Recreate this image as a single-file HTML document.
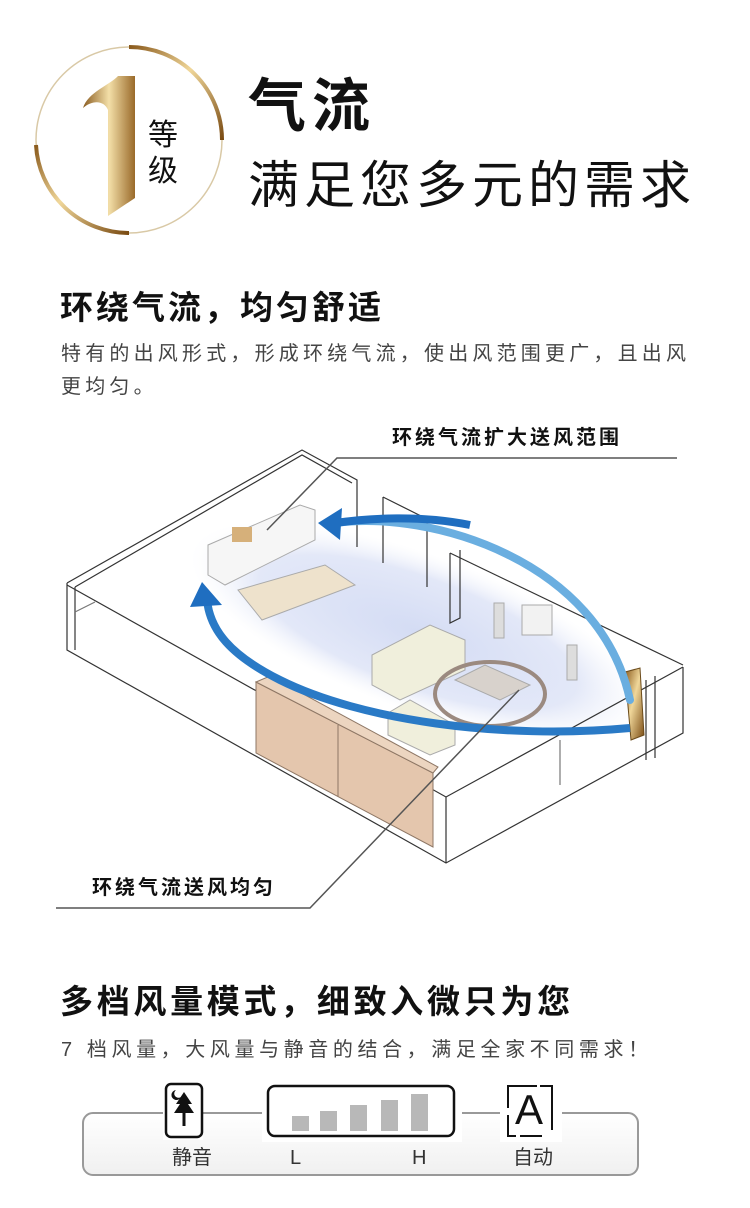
<!DOCTYPE html>
<html><head><meta charset="utf-8"><style>
body{margin:0;width:750px;height:1208px;background:#fff;position:relative;overflow:hidden;font-family:"Liberation Sans","Noto Sans CJK SC",sans-serif;color:#111}
.t{position:absolute;white-space:nowrap}
</style></head><body>
<svg width="750" height="1208" style="position:absolute;left:0;top:0">
<defs>
<linearGradient id="gold" x1="0" y1="0" x2="1" y2="1">
<stop offset="0" stop-color="#8a5a1c"/><stop offset="0.45" stop-color="#f0d79a"/><stop offset="1" stop-color="#7a4b12"/></linearGradient>
<linearGradient id="gold2" x1="0" y1="0" x2="1" y2="0">
<stop offset="0" stop-color="#8b5d22"/><stop offset="0.5" stop-color="#f3dfa8"/><stop offset="1" stop-color="#9a6a2a"/></linearGradient>
<radialGradient id="glow" cx="0.5" cy="0.5" r="0.5">
<stop offset="0" stop-color="#d4dcf4"/><stop offset="0.7" stop-color="#e3e8f8"/><stop offset="1" stop-color="#f4f6fc" stop-opacity="0"/></radialGradient>
<linearGradient id="panel" x1="0" y1="0" x2="0" y2="1"><stop offset="0" stop-color="#fff"/><stop offset="1" stop-color="#f0f0f0"/></linearGradient>
</defs>
<circle cx="129" cy="140" r="93" fill="none" stroke="#d9c9a6" stroke-width="1.5"/>
<path d="M129 47 A93 93 0 0 1 222 140" fill="none" stroke="url(#gold)" stroke-width="4"/>
<path d="M36 145 A93 93 0 0 0 129 233" fill="none" stroke="url(#gold)" stroke-width="4"/>
<path d="M83 108 C 88 92 110 85 118 76 L135 76 L135 198 L108 216 L108 110 C 104 100 92 100 83 108 Z" fill="url(#gold2)"/>
<ellipse cx="418" cy="632" rx="240" ry="78" transform="rotate(20 418 632)" fill="url(#glow)"/>
<g fill="none" stroke="#333" stroke-width="1.2">
<path d="M67 583 L302 450 L357 480 L357 547"/>
<path d="M75 587 L302 455 L352 483"/>
<path d="M67 583 L67 650 L446 863 L683 733 L683 667"/>
<path d="M67 585 L446 797 L683 667"/>
<path d="M75 587 L75 650"/>
<path d="M446 797 L446 863"/>
<path d="M450 553 L683 665"/>
<path d="M450 553 L450 623 L460 618 L460 550"/>
<path d="M383 497 L429 520 M383 497 L383 563 M427 520 L427 587"/>
<path d="M646 680 L646 760 M655 676 L655 758"/>
<path d="M560 740 L560 785 M95 602 L75 612" stroke="#777"/>
</g>
<g fill="#f5f1e6" stroke="#aaa" stroke-width="1">
<path d="M208 545 L300 505 L315 510 L315 540 L225 585 L208 575 Z" fill="#f6f6f6"/>
<path d="M238 590 L325 565 L355 585 L262 620 Z" fill="#eee2cc"/>
<path d="M372 655 L430 625 L465 640 L465 670 L400 700 L372 685 Z" fill="#f0efdc"/>
<path d="M388 713 L410 700 L455 725 L455 745 L430 755 L388 735 Z" fill="#f0efdc"/>
<ellipse cx="490" cy="694" rx="55" ry="32" fill="none" stroke="#9b8a80" stroke-width="4"/>
<path d="M455 680 L485 665 L530 685 L500 700 Z" fill="#d8d2cc"/>
<rect x="522" y="605" width="30" height="30" fill="#f2f2f2"/>
<rect x="494" y="603" width="10" height="35" fill="#ddd"/>
<rect x="567" y="645" width="10" height="35" fill="#ddd"/>
</g>
<rect x="232" y="527" width="20" height="15" fill="#d6b07a"/>
<path d="M256 682 L433 773 L433 847 L256 753 Z" fill="#e4c6ad" stroke="#8e7765" stroke-width="1"/>
<path d="M256 682 L270 676 L438 767 L433 773 Z" fill="#ecd5c0" stroke="#8e7765" stroke-width="1"/>
<line x1="338" y1="725" x2="338" y2="797" stroke="#8e7765"/>
<path d="M625 672 L640 668 L644 735 L631 740 Z" fill="url(#gold)" stroke="#6a4a1a" stroke-width="1"/>
<path d="M630 700 C 600 560 430 510 335 523" fill="none" stroke="#6aaee0" stroke-width="8" stroke-linecap="round"/>
<path d="M470 525 C 420 515 370 518 335 523" fill="none" stroke="#1f6ec0" stroke-width="8"/>
<path d="M318 523 L342 508 L340 540 Z" fill="#1f6ec0"/>
<path d="M630 728 C 500 740 360 720 280 680 C 230 655 210 630 207 600" fill="none" stroke="#2a7ac6" stroke-width="8"/>
<path d="M202 582 L190 607 L222 605 Z" fill="#1f6ec0"/>
<g fill="none" stroke="#555" stroke-width="1.5">
<path d="M677 458 L337 458 L267 530"/>
<path d="M56 908 L310 908 L519 690"/>
</g>
<rect x="83" y="1113" width="555" height="62" rx="10" fill="url(#panel)" stroke="#999" stroke-width="2"/>
<rect x="163" y="1082" width="40" height="58" fill="#fff"/>
<rect x="166" y="1084" width="36" height="53" rx="5" fill="#fff" stroke="#111" stroke-width="2.5"/>
<path d="M184 1092 L176 1104 L180 1104 L174 1113 L194 1113 L188 1104 L192 1104 Z" fill="#111"/>
<rect x="182.5" y="1112" width="3" height="14" fill="#111"/>
<path d="M176 1090 a5 5 0 1 0 5 7 a4 4 0 1 1 -5 -7z" fill="#111"/>
<rect x="262" y="1080" width="200" height="62" fill="#fff"/>
<rect x="268" y="1086" width="186" height="50" rx="7" fill="#fff" stroke="#111" stroke-width="2.5"/>
<g fill="#b8b8b8"><rect x="292" y="1116" width="17" height="15"/><rect x="320" y="1111" width="17" height="20"/><rect x="350" y="1105" width="17" height="26"/><rect x="381" y="1100" width="17" height="31"/><rect x="411" y="1094" width="17" height="37"/></g>
<rect x="500" y="1080" width="62" height="62" fill="#fff"/>
<g fill="none" stroke="#111" stroke-width="2"><path d="M508 1115 L508 1136 L516 1136 M520 1136 L542 1136 M552 1130 L552 1086 L540 1086 M537 1086 L508 1086 L508 1108"/></g>
</svg>
<div class="t" style="left:148px;top:118px;font-size:30px;line-height:36px">等<br>级</div>
<div class="t" style="left:248px;top:70px;font-size:58px;font-weight:bold;line-height:74px;letter-spacing:6px">气流</div>
<div class="t" style="left:248px;top:153px;font-size:51px;line-height:66px;letter-spacing:5px">满足您多元的需求</div>
<div class="t" style="left:60px;top:286px;font-size:33px;font-weight:bold;line-height:44px;letter-spacing:3px">环绕气流，均匀舒适</div>
<div class="t" style="left:61px;top:338px;font-size:20px;color:#444;line-height:33px;letter-spacing:4.2px">特有的出风形式，形成环绕气流，使出风范围更广，且出风<br>更均匀。</div>
<div class="t" style="left:392px;top:424px;font-size:20px;font-weight:bold;line-height:28px;letter-spacing:3px">环绕气流扩大送风范围</div>
<div class="t" style="left:92px;top:874px;font-size:20px;font-weight:bold;line-height:28px;letter-spacing:3px">环绕气流送风均匀</div>
<div class="t" style="left:60px;top:980px;font-size:33px;font-weight:bold;line-height:44px;letter-spacing:3.7px">多档风量模式，细致入微只为您</div>
<div class="t" style="left:61px;top:1035px;font-size:20px;color:#444;line-height:30px;letter-spacing:4.6px">7 档风量，大风量与静音的结合，满足全家不同需求！</div>
<div class="t" style="left:172px;top:1144px;font-size:20px;color:#333;line-height:28px">静音</div>
<div class="t" style="left:290px;top:1144px;font-size:20px;color:#333;line-height:28px">L</div>
<div class="t" style="left:412px;top:1144px;font-size:20px;color:#333;line-height:28px">H</div>
<div class="t" style="left:513px;top:1144px;font-size:20px;color:#333;line-height:28px">自动</div>
<div class="t" style="left:515px;top:1086px;font-size:42px;color:#111;line-height:48px">A</div>
</body></html>
